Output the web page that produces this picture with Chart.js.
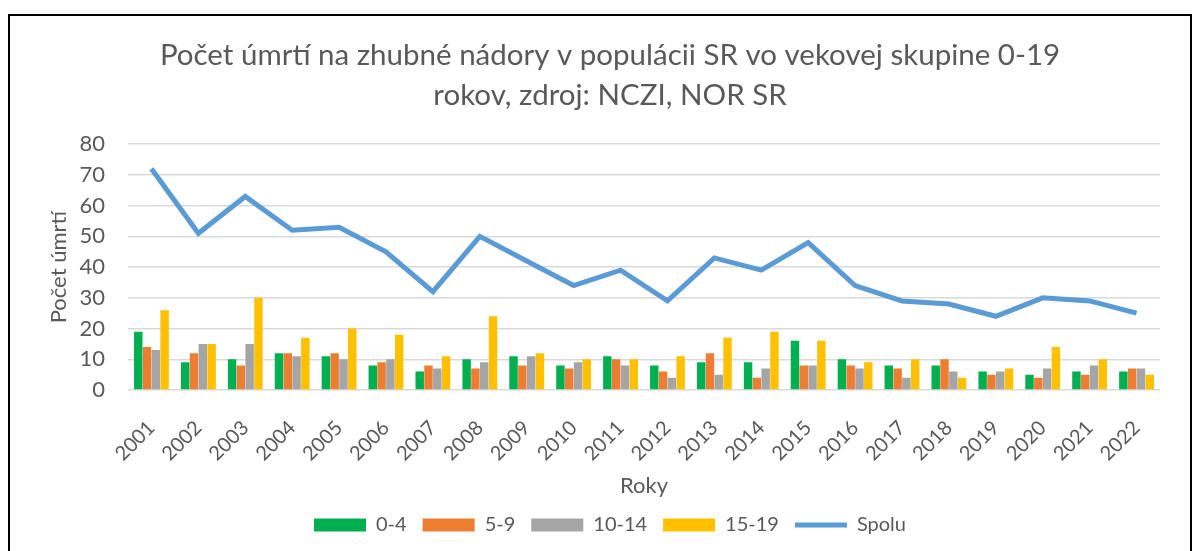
<!DOCTYPE html>
<html>
<head>
<meta charset="utf-8">
<script src="https://cdn.jsdelivr.net/npm/chart.js@4/dist/chart.umd.min.js"></script>
<style>
  body { margin: 0; background: #fff; }
  #frame { position: absolute; left: 8px; top: 14px; width: 1180px; height: 560px; border: 2px solid #000; }
  #wrap { position: absolute; left: 0; top: 0; width: 1198px; height: 551px; }
</style>
</head>
<body>
<div id="frame"></div>
<div id="wrap"><canvas id="c" width="1198" height="551"></canvas></div>
<script>
const years = ["2001","2002","2003","2004","2005","2006","2007","2008","2009","2010","2011",
               "2012","2013","2014","2015","2016","2017","2018","2019","2020","2021","2022"];
const age0_4   = [19, 9, 10, 12, 11, 8, 6, 10, 11, 8, 11, 8, 9, 9, 16, 10, 8, 8, 6, 5, 6, 6];
const age5_9   = [14, 12, 8, 12, 12, 9, 8, 7, 8, 7, 10, 6, 12, 4, 8, 8, 7, 10, 5, 4, 5, 7];
const age10_14 = [13, 15, 15, 11, 10, 10, 7, 9, 11, 9, 8, 4, 5, 7, 8, 7, 4, 6, 6, 7, 8, 7];
const age15_19 = [26, 15, 30, 17, 20, 18, 11, 24, 12, 10, 10, 11, 17, 19, 16, 9, 10, 4, 7, 14, 10, 5];
const spolu    = [72, 51, 63, 52, 53, 45, 32, 50, 42, 34, 39, 29, 43, 39, 48, 34, 29, 28, 24, 30, 29, 25];

const txt = "#595959";
const font = "Lato, 'Open Sans', sans-serif";

function bar(label, data, color) {
  return { type: "bar", label: label, data: data, backgroundColor: color,
           borderWidth: 0, order: 2, barPercentage: 0.96, categoryPercentage: 0.75 };
}

new Chart(document.getElementById("c"), {
  data: {
    labels: years,
    datasets: [
      { type: "line", label: "Spolu", data: spolu, borderColor: "#5B9BD5", backgroundColor: "#5B9BD5",
        borderWidth: 5, pointRadius: 0, tension: 0, order: 1 },
      bar("0-4", age0_4, "#00B050"),
      bar("5-9", age5_9, "#ED7D31"),
      bar("10-14", age10_14, "#A5A5A5"),
      bar("15-19", age15_19, "#FFC000")
    ]
  },
  options: {
    responsive: false,
    animation: false,
    layout: { padding: { left: 60, right: 38, top: 35, bottom: 6 } },
    plugins: {
      title: {
        display: true,
        text: ["Počet úmrtí na zhubné nádory v populácii SR vo vekovej skupine 0-19", "rokov, zdroj: NCZI, NOR SR"],
        color: txt,
        font: { family: font, size: 29.5, weight: "normal", lineHeight: 1.36 },
        padding: { top: 0, bottom: 29 }
      },
      legend: {
        position: "bottom",
        labels: {
          color: txt,
          font: { family: font, size: 20 },
          usePointStyle: true,
          pointStyleWidth: 52,
          boxHeight: 13,
          padding: 16,
          sort: (a, b) => (a.text === "Spolu") - (b.text === "Spolu"),
          generateLabels: (chart) => {
            const items = Chart.defaults.plugins.legend.labels.generateLabels(chart);
            items.forEach(it => {
              it.pointStyle = it.text === "Spolu" ? "line" : "rect";
              if (it.text !== "Spolu") { it.lineWidth = 0; it.strokeStyle = it.fillStyle; }
            });
            return items;
          }
        }
      },
      tooltip: { enabled: false }
    },
    scales: {
      x: {
        afterFit: (scale) => { scale.height = 109; },
        grid: { display: false },
        border: { display: false },
        ticks: { color: txt, font: { family: font, size: 20 }, maxRotation: 45, minRotation: 45, padding: 18 },
        title: { display: true, text: "Roky", color: txt, font: { family: font, size: 22 }, padding: { top: 0, bottom: 0 } }
      },
      y: {
        min: 0, max: 80,
        afterFit: (scale) => { scale.width = 68; },
        ticks: { stepSize: 10, autoSkip: false, color: txt, font: { family: font, size: 22 }, padding: 23 },
        grid: { color: "#D9D9D9", lineWidth: 1.5, drawTicks: false },
        border: { display: false },
        title: { display: true, text: "Počet úmrtí", color: txt, font: { family: font, size: 22 }, padding: { top: -14, bottom: 0 } }
      }
    }
  }
});
</script>
</body>
</html>
